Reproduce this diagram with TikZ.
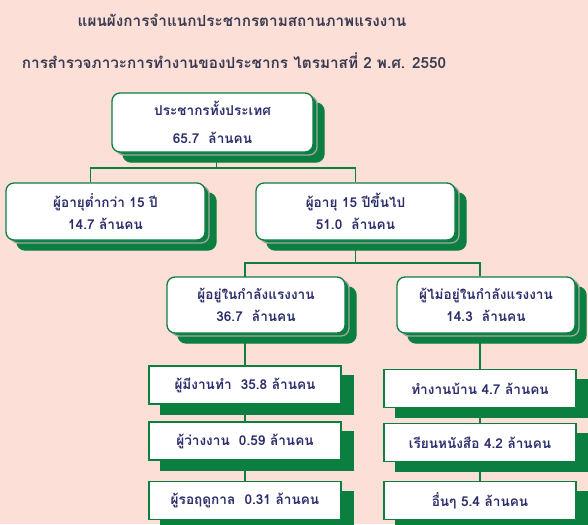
\documentclass[tikz,border=0pt]{standalone}
\usepackage{fontspec}
\newfontfamily\thaifont[Script=Thai]{Loma}
\usetikzlibrary{shadows}
\definecolor{bgpink}{HTML}{FCDFD6}
\definecolor{boxgreen}{HTML}{0B7F40}
\definecolor{txtnavy}{HTML}{2C2D6C}
\definecolor{titlegray}{HTML}{3A3A52}
\pgfdeclarelayer{bg}
\pgfsetlayers{bg,main}

\begin{document}
\begin{tikzpicture}[
    x=1pt, y=-1pt,
    every node/.style={font=\thaifont\bfseries\fontsize{13.6}{22}\selectfont, text=txtnavy},
    roundbox/.style={rectangle, draw=boxgreen, line width=1.3pt, fill=white, rounded corners=8pt, align=center,
        drop shadow={shadow xshift=11pt, shadow yshift=-10pt, fill=boxgreen, draw=boxgreen, opacity=1},
        drop shadow={shadow xshift=4pt, shadow yshift=-3pt, fill=boxgreen, draw=gray!70, opacity=1}},
    flatbox/.style={rectangle, draw=boxgreen, line width=1.3pt, fill=white, align=center,
        minimum width=192pt, minimum height=38pt,
        drop shadow={shadow xshift=12pt, shadow yshift=-10pt, fill=boxgreen, draw=boxgreen, opacity=1}},
    titletext/.style={text=titlegray, font=\thaifont\bfseries\fontsize{15.3}{18}\selectfont},
    conn/.style={draw=boxgreen, line width=1.7pt}
]
\useasboundingbox (0,0) rectangle (588,524);

% titles
\node[titletext] (title1) at (242,20) {แผนผังการจำแนกประชากรตามสถานภาพแรงงาน};
\node[titletext] (title2) at (234,61) {การสำรวจภาวะการทำงานของประชากร ไตรมาสที่ 2 พ.ศ. 2550};

% level 1 and 2
\node[roundbox, minimum width=201pt, minimum height=59pt, font=\thaifont\bfseries\fontsize{13.6}{25}\selectfont] (total) at (212.5,122.5) {ประชากรทั้งประเทศ\\[3pt]65.7~~ล้านคน};
\node[roundbox, minimum width=199pt, minimum height=57pt] (under15) at (105.5,211.5) {ผู้อายุต่ำกว่า 15 ปี\\14.7 ล้านคน};
\node[roundbox, minimum width=199pt, minimum height=57pt] (over15) at (355.5,211.5) {ผู้อายุ 15 ปีขึ้นไป\\51.0~~ล้านคน};

% level 3
\node[roundbox, minimum width=178pt, minimum height=56pt] (inlf) at (256,305) {ผู้อยู่ในกำลังแรงงาน\\36.7~~ล้านคน};
\node[roundbox, minimum width=178pt, minimum height=56pt] (notlf) at (486,305) {ผู้ไม่อยู่ในกำลังแรงงาน\\14.3~~ล้านคน};

% level 4
\node[flatbox] (employed) at (245,385) {ผู้มีงานทำ~~35.8 ล้านคน};
\node[flatbox] (unemployed) at (245,441) {ผู้ว่างงาน~~0.59 ล้านคน};
\node[flatbox] (seasonal) at (245,500.5) {ผู้รอฤดูกาล~~0.31 ล้านคน};
\node[flatbox] (housework) at (480,388.5) {ทำงานบ้าน 4.7 ล้านคน};
\node[flatbox] (study) at (480,442.5) {เรียนหนังสือ 4.2 ล้านคน};
\node[flatbox] (others) at (480,500.5) {อื่นๆ 5.4 ล้านคน};

% connectors
\begin{pgfonlayer}{bg}
\fill[bgpink] (0,0) rectangle (588,524);
\draw[conn] ([xshift=4pt]total.south) -- ++(0,15) coordinate (j1);
\draw[conn] ([xshift=-15pt]under15.north) |- (j1) -| (over15.north);
\draw[conn] (over15.south) -- ++(0,22) coordinate (j2);
\draw[conn] (employed.north |- inlf.south) |- (j2) -| (housework.north |- notlf.north);
\draw[conn] (employed.north |- inlf.south) -- (employed.north);
\draw[conn] (employed) -- (unemployed);
\draw[conn] (unemployed) -- (seasonal);
\draw[conn] (housework.north |- notlf.south) -- (housework.north);
\draw[conn] (housework) -- (study);
\draw[conn] (study) -- (others);
\end{pgfonlayer}
\end{tikzpicture}
\end{document}
